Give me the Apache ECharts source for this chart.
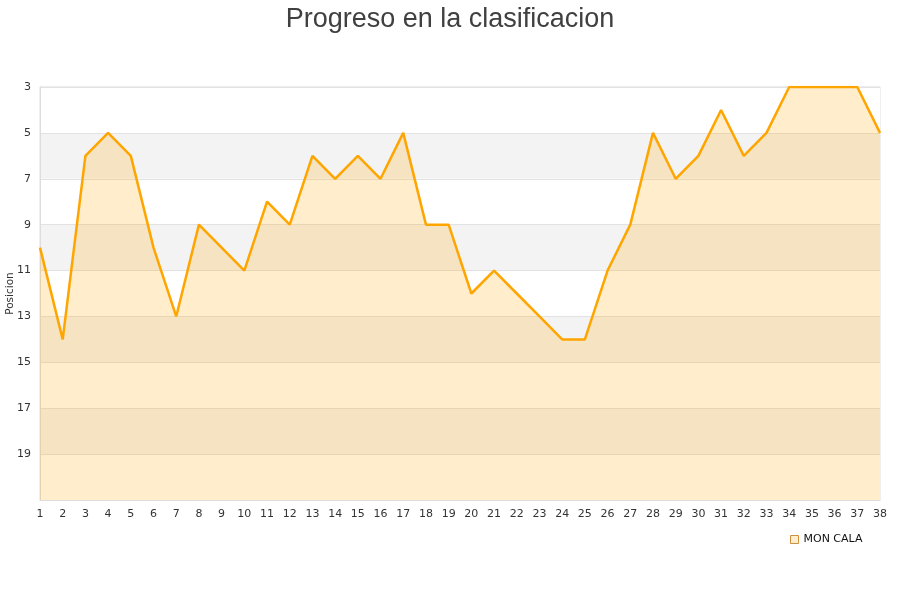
<!DOCTYPE html>
<html>
<head>
<meta charset="utf-8">
<script src="https://cdn.jsdelivr.net/npm/echarts@6/dist/echarts.min.js"></script>
<style>
  html, body { margin: 0; padding: 0; background: #fff; }
  #chart { width: 900px; height: 600px; }
</style>
</head>
<body>
<div id="chart"></div>
<script>
// jornadas y posicion de MON CALA
var jornadas = ['1', '2', '3', '4', '5', '6', '7', '8', '9', '10', '11', '12', '13',
  '14', '15', '16', '17', '18', '19', '20', '21', '22', '23', '24', '25', '26',
  '27', '28', '29', '30', '31', '32', '33', '34', '35', '36', '37', '38'];
var posicion = [10, 14, 6, 5, 6, 10, 13, 9, 10, 11, 8, 9, 6, 7, 6, 7, 5, 9, 9,
  12, 11, 12, 13, 14, 14, 11, 9, 5, 7, 6, 4, 6, 5, 3, 3, 3, 3, 5];
var equipo = 'MON CALA';

var myChart = echarts.init(document.getElementById('chart'));
myChart.setOption({
  animation: false,
  textStyle: {fontFamily: 'DejaVu Sans'},
  title: {
    text: 'Progreso en la clasificacion',
    left: 'center',
    top: 1,
    textStyle: {fontFamily: 'Liberation Sans', fontSize: 27, fontWeight: 'normal', color: '#404040'}
  },
  legend: {
    data: [equipo],
    left: 785,
    top: 529,
    icon: 'rect',
    itemWidth: 8,
    itemHeight: 8,
    itemGap: 5,
    itemStyle: {color: '#ffedcc', borderColor: '#d09040', borderWidth: 1},
    textStyle: {fontSize: 11, color: '#111'}
  },
  grid: {
    left: 40, right: 20, top: 87, bottom: 100,
    outerBoundsMode: 'none',
    containLabel: false,
    show: true, borderColor: '#dddddd', borderWidth: 1
  },
  xAxis: {
    type: 'category',
    data: jornadas,
    boundaryGap: false,
    axisLine: {lineStyle: {color: '#dddddd'}},
    axisTick: {show: false},
    axisLabel: {color: '#333', fontSize: 11, margin: 9, interval: 0}
  },
  yAxis: {
    type: 'value',
    inverse: true,
    min: 3,
    max: 21,
    interval: 2,
    name: 'Posicion',
    nameLocation: 'middle',
    nameGap: 24,
    nameMoveOverlap: false,
    nameTextStyle: {fontSize: 10.5, color: '#333'},
    axisLine: {show: true, lineStyle: {color: '#dddddd'}},
    axisTick: {show: false},
    axisLabel: {color: '#333', fontSize: 11, margin: 9, showMaxLabel: false},
    splitLine: {lineStyle: {color: '#e2e2e2'}},
    splitArea: {show: true, areaStyle: {color: ['#ffffff', '#f3f3f3']}}
  },
  series: [{
    name: equipo,
    type: 'line',
    data: posicion,
    symbol: 'none',
    lineStyle: {color: '#ffa500', width: 2.5},
    itemStyle: {color: '#ffa500'},
    areaStyle: {color: 'rgba(255,165,0,0.2)', opacity: 1, origin: 'end'}
  }]
});
</script>
</body>
</html>
